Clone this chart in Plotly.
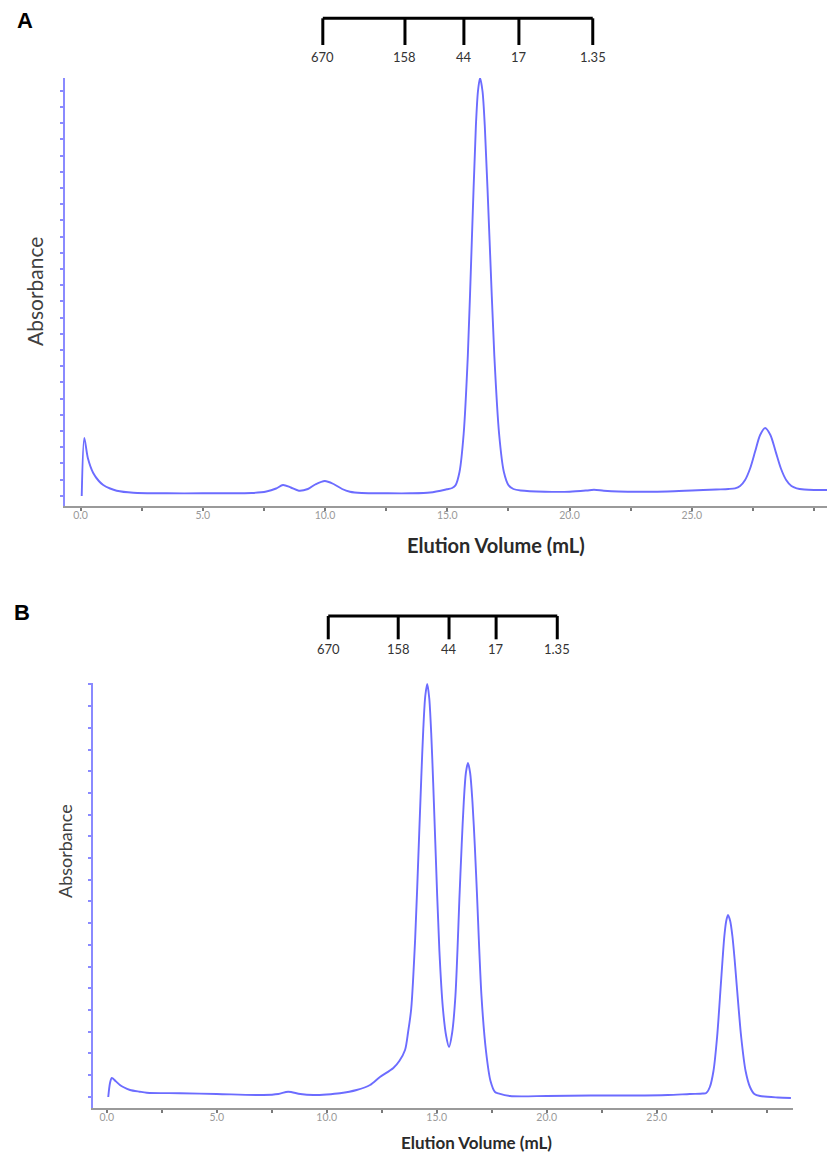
import plotly.graph_objects as go

# ---- Panel A chromatogram (elution volume in mL, absorbance in arbitrary units)
vol_a = [0.05, 0.155, 0.30, 0.52, 0.75, 0.93, 1.21, 1.48, 2.16, 3.53, 5.0, 6.0, 7.0, 7.6,
         8.0, 8.28, 8.6, 8.93, 9.3, 9.6, 9.99, 10.35, 10.7, 11.02, 11.5, 12.5, 13.5, 14.3,
         14.98, 15.2, 15.335, 15.50, 15.67, 15.84, 16.005, 16.17, 16.256, 16.34, 16.44,
         16.535, 16.73, 16.925, 17.12, 17.315, 17.51, 17.705, 18.0, 19.0, 20.0, 20.7, 21.0,
         21.4, 22.0, 23.0, 24.0, 25.0, 26.0, 26.5, 26.77, 26.975, 27.18, 27.385, 27.59,
         27.795, 28.0, 28.215, 28.43, 28.645, 28.86, 29.075, 29.29, 29.6, 30.0, 30.53]
abs_a = [10, 68, 48, 33, 25, 21, 17.5, 15.3, 13.3, 12.7, 12.7, 12.7, 13, 14.5,
         17.5, 21, 18.5, 15.3, 17, 21.5, 25, 22, 17, 14.3, 13, 12.7, 12.7, 13.5,
         16.7, 18, 20.6, 34, 72, 150, 266, 380, 415, 428, 415,
         380, 266, 150, 72, 34, 20.6, 17, 15.5, 14.3, 14.3, 15.5, 16.2,
         15.3, 14.5, 14.3, 14.5, 15.5, 16.5, 17, 17.7, 20, 26, 37.5, 54.4,
         71, 78, 71, 54.4, 37.5, 26, 20, 17.7, 16.5, 16, 16]

# ---- Panel B chromatogram
vol_b = [0.07, 0.15, 0.23, 0.4, 0.6, 0.75, 1.06, 1.5, 1.82, 3.33, 5.0, 7.12, 7.8, 8.25,
         8.8, 9.39, 10.0, 10.6, 11.36, 11.97, 12.42, 13.03, 13.3, 13.56, 13.70, 13.84,
         14.02, 14.205, 14.30, 14.39, 14.48, 14.57, 14.66, 14.75, 14.84, 14.935, 15.12,
         15.28, 15.43, 15.56, 15.70, 15.85, 16.04, 16.135, 16.23, 16.325, 16.42, 16.52,
         16.625, 16.73, 16.83, 17.035, 17.24, 17.445, 17.65, 17.80, 18.33, 20.0, 22.0,
         24.0, 25.5, 26.5, 27.1, 27.25, 27.415, 27.58, 27.745, 27.91, 27.995, 28.075,
         28.16, 28.24, 28.34, 28.44, 28.54, 28.64, 28.84, 29.04, 29.24, 29.44, 29.7,
         30.5, 31.1]
abs_b = [11, 25, 30, 27, 23, 21, 18, 16.3, 15.3, 14.7, 14, 13, 14, 16.3,
         14, 13, 13.5, 14.7, 18, 23, 31, 40, 47, 58, 76, 99,
         169, 275, 331, 379, 412, 424, 410, 375, 325, 266, 158,
         100, 72, 61, 75, 112, 214, 263, 306, 335, 345, 335,
         306, 263, 214, 112, 57, 27, 16, 14.7, 12, 12, 12.5,
         12.5, 13, 14, 14.5, 15, 21, 37, 71, 122, 149, 172,
         187, 193, 187, 172, 149, 122, 71, 37, 21, 14, 12,
         10.5, 10]

# ---- Molecular-weight standards (kDa) and their elution volumes on each run
std_labels = ["670", "158", "44", "17", "1.35"]
std_vol_a = [9.91, 13.27, 15.68, 17.93, 20.95]
std_vol_b = [10.07, 13.25, 15.56, 17.70, 20.48]

# ---- Axis tick labels
xtick_vals = [0, 5, 10, 15, 20, 25]
xtick_text = ["0.0", "5.0", "10.0", "15.0", "20.0", "25.0"]

LINE_BLUE = "#6c6cff"
AXIS_BLUE = "#8a8aff"
GREY = "#9a9a9a"
W, H = 827, 1158


def py(pixel_y):
    """Convert a vertical page position to paper coordinates."""
    return 1 - pixel_y / H


def px(pixel_x):
    return pixel_x / W


fig = go.Figure()
fig.add_trace(go.Scatter(x=vol_a, y=abs_a, mode="lines", xaxis="x", yaxis="y",
                         line=dict(color=LINE_BLUE, width=1.9, shape="spline", smoothing=0.8),
                         hoverinfo="skip", showlegend=False))
fig.add_trace(go.Scatter(x=vol_b, y=abs_b, mode="lines", xaxis="x2", yaxis="y2",
                         line=dict(color=LINE_BLUE, width=1.9, shape="spline", smoothing=0.8),
                         hoverinfo="skip", showlegend=False))

xaxis_common = dict(
    showgrid=False, zeroline=False, showline=True, linecolor=GREY, linewidth=2,
    ticks="", tickvals=xtick_vals, ticktext=xtick_text, ticklabelstandoff=-2,
    tickfont=dict(family="Lato", size=10.5, color=GREY),
    minor=dict(dtick=2.5, tick0=0, ticks="outside", ticklen=3, tickwidth=2, tickcolor="#7a7a7a"),
)
yaxis_common = dict(
    showgrid=False, zeroline=False, showline=True, linecolor=AXIS_BLUE, linewidth=2,
    ticks="outside", ticklen=3, tickwidth=2, tickcolor=AXIS_BLUE, showticklabels=False,
    tickmode="linear",
)

fig.update_layout(
    width=W, height=H, margin=dict(l=0, r=0, t=0, b=0),
    paper_bgcolor="white", plot_bgcolor="white",
    xaxis=dict(domain=[px(65), 1.0], range=[-0.634, 30.53], anchor="y", **xaxis_common),
    yaxis=dict(domain=[py(506), py(78)], range=[0, 428], anchor="x",
               tick0=10.3, dtick=16.2, **yaxis_common),
    xaxis2=dict(domain=[px(93), px(793)], range=[-0.623, 31.195], anchor="y2", **xaxis_common),
    yaxis2=dict(domain=[py(1108), py(683)], range=[0, 425], anchor="x2",
                tick0=11.3, dtick=21.7, **yaxis_common),
)

# Standards bar above each chromatogram
shapes = []
annotations = []
bars = [("x", std_vol_a, py(18.3), py(45), py(57)),
        ("x2", std_vol_b, py(616), py(639.3), py(649))]
for xref, vols, y_top, y_bot, y_lab in bars:
    shapes.append(dict(type="line", xref=xref, yref="paper", x0=vols[0], x1=vols[-1],
                       y0=y_top, y1=y_top, line=dict(color="black", width=3)))
    for v, lab in zip(vols, std_labels):
        shapes.append(dict(type="line", xref=xref, yref="paper", x0=v, x1=v,
                           y0=y_top, y1=y_bot, line=dict(color="black", width=3)))
        annotations.append(dict(x=v, y=y_lab, xref=xref, yref="paper", text=lab,
                                showarrow=False, xanchor="center", yanchor="middle",
                                font=dict(family="Lato", size=13, color="#333333")))


def label(x, y, text, font, angle=0):
    return dict(x=x, y=y, xref="paper", yref="paper", text=text, textangle=angle,
                showarrow=False, xanchor="center", yanchor="middle", font=font)


annotations += [
    label(px(25), py(20.5), "<b>A</b>", dict(family="Liberation Sans", size=22, color="black")),
    label(px(22), py(612), "<b>B</b>", dict(family="Liberation Sans", size=22, color="black")),
    label(px(35), py(292), "Absorbance", dict(family="Lato", size=21, color="#404040"), -90),
    label(px(65), py(851), "Absorbance", dict(family="Lato", size=18, color="#404040"), -90),
    label(px(496), py(545), "<b>Elution Volume (mL)</b>",
          dict(family="Lato", size=20, color="#2a2a2a")),
    label(px(476), py(1142), "<b>Elution Volume (mL)</b>",
          dict(family="Lato", size=17, color="#2a2a2a")),
]

fig.update_layout(shapes=shapes, annotations=annotations)
fig.write_html("out.html")
